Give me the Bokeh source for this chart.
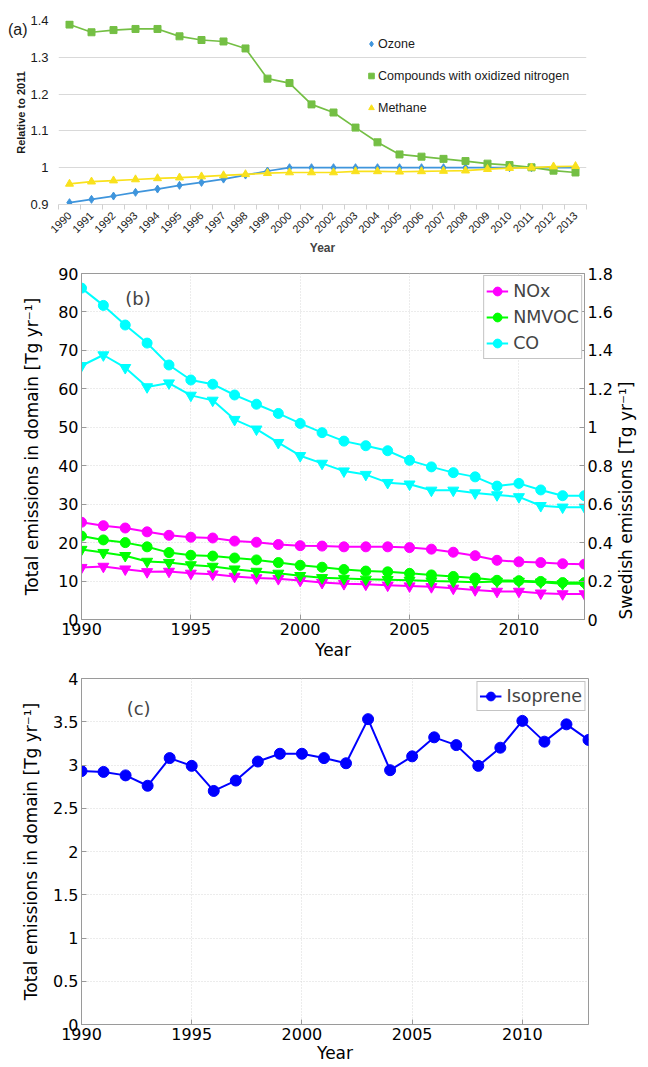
import math
from bokeh.plotting import figure
from bokeh.models import (Range1d, LinearAxis, FixedTicker, CustomJSTickFormatter,
                          Legend, LegendItem, Label)
from bokeh.embed import file_html
from bokeh.resources import INLINE

# ---------------- data ----------------
years = list(range(1990, 2014))

# panel (a): relative to 2011
ozone = [0.905, 0.914, 0.923, 0.933, 0.942, 0.952, 0.960, 0.969, 0.980, 0.991,
         1.000, 1.000, 1.000, 1.000, 1.000, 1.000, 1.000, 1.000, 1.000, 1.000,
         1.000, 1.000, 1.000, 1.000]
oxidized_n = [1.389, 1.368, 1.374, 1.377, 1.377, 1.357, 1.347, 1.343, 1.324, 1.242,
              1.230, 1.172, 1.150, 1.109, 1.069, 1.036, 1.030, 1.024, 1.018, 1.011,
              1.007, 1.001, 0.992, 0.987]
methane = [0.956, 0.962, 0.965, 0.968, 0.971, 0.973, 0.976, 0.979, 0.982, 0.985,
           0.987, 0.987, 0.987, 0.990, 0.990, 0.989, 0.990, 0.991, 0.992, 0.996,
           0.999, 1.000, 1.003, 1.004]

# panel (b): total emissions in domain [Tg/yr]
nox_domain = [25.3, 24.4, 23.8, 22.8, 21.9, 21.4, 21.2, 20.4, 20.1, 19.5,
              19.2, 19.1, 18.9, 18.9, 18.9, 18.7, 18.3, 17.5, 16.6, 15.4,
              15.0, 14.8, 14.5, 14.4]
nmvoc_domain = [21.7, 20.7, 20.0, 18.9, 17.4, 16.7, 16.5, 16.0, 15.5, 14.8,
                14.1, 13.6, 13.0, 12.6, 12.4, 12.0, 11.6, 11.2, 10.8, 10.2,
                10.1, 9.9, 9.6, 9.6]
co_domain = [86.2, 81.7, 76.6, 71.9, 66.2, 62.3, 61.2, 58.4, 56.0, 53.6,
             51.0, 48.6, 46.4, 45.2, 43.9, 41.4, 39.7, 38.2, 37.1, 34.7,
             35.4, 33.7, 32.2, 32.2]

# panel (b): Swedish emissions [Tg/yr] (right axis)
nox_sweden = [0.270, 0.276, 0.262, 0.248, 0.250, 0.240, 0.236, 0.224, 0.216, 0.212,
              0.203, 0.192, 0.186, 0.183, 0.178, 0.174, 0.170, 0.162, 0.154, 0.146,
              0.146, 0.137, 0.133, 0.133]
nmvoc_sweden = [0.364, 0.348, 0.332, 0.302, 0.296, 0.284, 0.276, 0.262, 0.250, 0.240,
                0.228, 0.217, 0.213, 0.209, 0.207, 0.204, 0.200, 0.198, 0.194, 0.198,
                0.198, 0.194, 0.186, 0.186]
co_sweden = [1.320, 1.376, 1.310, 1.210, 1.230, 1.166, 1.140, 1.040, 0.990, 0.920,
             0.852, 0.812, 0.772, 0.754, 0.712, 0.704, 0.672, 0.672, 0.658, 0.648,
             0.638, 0.592, 0.584, 0.584]

# panel (c): isoprene total emissions in domain [Tg/yr]
isoprene = [2.93, 2.92, 2.88, 2.76, 3.08, 2.99, 2.70, 2.82, 3.04, 3.13,
            3.13, 3.08, 3.02, 3.53, 2.94, 3.10, 3.32, 3.23, 2.99, 3.20,
            3.51, 3.27, 3.47, 3.29]

a_yticks = [0.9, 1.0, 1.1, 1.2, 1.3, 1.4]
b_yticks = [0, 10, 20, 30, 40, 50, 60, 70, 80, 90]
b_ryticks = [0, 0.2, 0.4, 0.6, 0.8, 1, 1.2, 1.4, 1.6, 1.8]
c_yticks = [0, 0.5, 1, 1.5, 2, 2.5, 3, 3.5, 4]
bc_xticks = [1990, 1995, 2000, 2005, 2010]

# ---------------- styles ----------------
GREEN_A = "#74bf44"
BLUE_A = "#3f95dc"
YEL_A = "#f9e11c"
MAG = "#ff00ff"
GRN = "#00ff00"
CYA = "#00ffff"
BLU = "#0000ff"
FA = "Liberation Sans"
FM = "DejaVu Sans"
AXC = "#9a9a9a"
GRIDC = "#d9d9d9"


def fmt1():
    return CustomJSTickFormatter(code="return String(Math.round(tick*10)/10);")


# ---------------- panel (a) ----------------
pa = figure(width=648, height=262, x_range=Range1d(1989.5, 2013.5),
            y_range=Range1d(0.9, 1.4), output_backend="svg", toolbar_location=None,
            min_border_left=58, min_border_right=62, min_border_top=20,
            min_border_bottom=58)
pa.outline_line_color = None
pa.xgrid.visible = False
pa.ygrid.grid_line_color = "#d9d9d9"
pa.yaxis.ticker = FixedTicker(ticks=a_yticks)
pa.yaxis.formatter = fmt1()
pa.yaxis.axis_line_color = None
pa.yaxis.major_tick_line_color = None
pa.yaxis.minor_tick_line_color = None
pa.yaxis.major_tick_out = 0
pa.yaxis.minor_tick_out = 0
pa.yaxis.major_label_text_font = FA
pa.yaxis.major_label_text_font_size = "13px"
pa.yaxis.major_label_text_color = "#1a1a1a"
pa.yaxis.major_label_standoff = 10
pa.xaxis.ticker = FixedTicker(ticks=years, minor_ticks=[y - 0.5 for y in years] + [2013.5])
pa.xaxis.formatter = CustomJSTickFormatter(code="return String(tick);")
pa.xaxis.major_tick_line_color = None
pa.xaxis.major_tick_out = 0
pa.xaxis.major_tick_in = 0
pa.xaxis.minor_tick_line_color = "#d0d0d0"
pa.xaxis.minor_tick_out = 5
pa.xaxis.minor_tick_in = 0
pa.xaxis.axis_line_color = "#d9d9d9"
pa.xaxis.major_label_orientation = math.pi / 4
pa.xaxis.major_label_text_font = FA
pa.xaxis.major_label_text_font_size = "11px"
pa.xaxis.major_label_text_color = "#1a1a1a"
pa.xaxis.major_label_standoff = 4
pa.xaxis.axis_label = "Year"
pa.xaxis.axis_label_text_font = FA
pa.xaxis.axis_label_text_font_style = "bold"
pa.xaxis.axis_label_text_font_size = "12px"
pa.xaxis.axis_label_standoff = 2

# outer left axis carrying the panel tag "(a)" and the y title
outer_a = LinearAxis(ticker=FixedTicker(ticks=[1.3755]),
                     formatter=CustomJSTickFormatter(code="return '(a)';"),
                     axis_line_color=None, major_tick_line_color=None,
                     minor_tick_line_color=None, major_tick_out=0, major_tick_in=0,
                     minor_tick_out=0,
                     major_label_standoff=0, major_label_text_font=FA,
                     major_label_text_font_size="16px", major_label_text_color="#1a1a1a",
                     axis_label="Relative to 2011", axis_label_text_font=FA,
                     axis_label_text_font_style="bold", axis_label_text_font_size="11px",
                     axis_label_text_color="#1a1a1a", axis_label_standoff=-22)
pa.add_layout(outer_a, "left")

pa.line(years, ozone, line_color=BLUE_A, line_width=1.7)
r_oz = pa.scatter(years, ozone, marker="diamond", size=8, color=BLUE_A)
pa.line(years, oxidized_n, line_color=GREEN_A, line_width=1.7)
r_ox = pa.scatter(years, oxidized_n, marker="square", size=7, color=GREEN_A)
pa.line(years, methane, line_color=YEL_A, line_width=1.7)
r_me = pa.scatter(years, methane, marker="triangle", size=8, color=YEL_A)

leg_a = Legend(items=[LegendItem(label="Ozone", renderers=[r_oz]),
                      LegendItem(label="Compounds with oxidized nitrogen", renderers=[r_ox]),
                      LegendItem(label="Methane", renderers=[r_me])],
               location=(306, 89), border_line_color=None, background_fill_alpha=0,
               glyph_width=14, glyph_height=15, label_height=15, spacing=17,
               padding=0, margin=0, label_standoff=-3,
               label_text_font=FA, label_text_font_size="12.5px",
               label_text_color="#1a1a1a")
pa.add_layout(leg_a)


def style_matlab(p):
    p.outline_line_color = AXC
    p.outline_line_width = 1
    for g in (p.xgrid, p.ygrid):
        g.grid_line_color = GRIDC
        g.grid_line_dash = "1 2"
    for ax in p.axis:
        ax.axis_line_color = AXC
        ax.major_tick_line_color = AXC
        ax.major_tick_in = 5
        ax.major_tick_out = 0
        ax.minor_tick_line_color = None
        ax.minor_tick_out = 0
        ax.major_label_text_font = FM
        ax.major_label_text_font_size = "16px"
        ax.major_label_text_color = "black"
        ax.major_label_standoff = 3
        ax.axis_label_text_font = FM
        ax.axis_label_text_font_size = "17px"
        ax.axis_label_text_font_style = "normal"
        ax.axis_label_text_color = "black"


# ---------------- panel (b) ----------------
pb = figure(width=648, height=406, x_range=Range1d(1990, 2013), y_range=Range1d(0, 90),
            output_backend="svg", toolbar_location=None,
            min_border_left=81, min_border_right=61, min_border_top=11,
            min_border_bottom=49)
pb.extra_y_ranges = {"swe": Range1d(0, 1.8)}
right_b = LinearAxis(y_range_name="swe", ticker=FixedTicker(ticks=b_ryticks),
                     formatter=fmt1(), axis_label="Swedish emissions [Tg yr⁻¹]")
pb.add_layout(right_b, "right")
pb.xaxis.ticker = FixedTicker(ticks=bc_xticks)
pb.yaxis[0].ticker = FixedTicker(ticks=b_yticks)
pb.yaxis[0].formatter = fmt1()
pb.yaxis[0].axis_label = "Total emissions in domain [Tg yr⁻¹]"
pb.xaxis.axis_label = "Year"
style_matlab(pb)
pb.yaxis[0].axis_label_standoff = 13
right_b.axis_label_standoff = 10
try:
    right_b.axis_label_orientation = math.pi / 2
except Exception:
    pass
try:
    right_b.axis_label_align = "start"
except Exception:
    pass
pb.xaxis.axis_label_standoff = 2
pb.xgrid.ticker = FixedTicker(ticks=bc_xticks)
pb.ygrid.ticker = FixedTicker(ticks=b_yticks)

items_b = []
for name, dom, swe, col in (("NOx", nox_domain, nox_sweden, MAG),
                            ("NMVOC", nmvoc_domain, nmvoc_sweden, GRN),
                            ("CO", co_domain, co_sweden, CYA)):
    l1 = pb.line(years, dom, line_color=col, line_width=2)
    s1 = pb.scatter(years, dom, marker="circle", size=10, color=col)
    pb.line(years, swe, line_color=col, line_width=2, y_range_name="swe")
    pb.scatter(years, swe, marker="inverted_triangle", size=11, color=col,
               y_range_name="swe")
    items_b.append(LegendItem(label=name, renderers=[l1, s1]))

leg_b = Legend(items=items_b, location="top_right", margin=2, padding=2, spacing=0,
               glyph_width=22, glyph_height=26, label_height=26, label_standoff=5,
               border_line_color="#8a8a8a", border_line_width=1,
               background_fill_color="white", background_fill_alpha=1,
               label_text_font=FM, label_text_font_size="17.5px")
pb.add_layout(leg_b)
pb.add_layout(Label(x=1992.0, y=83.5, text="(b)", text_baseline="middle",
                    text_align="left", text_font=FM, text_font_size="18px"))

# ---------------- panel (c) ----------------
pc = figure(width=648, height=398, x_range=Range1d(1990, 2013), y_range=Range1d(0, 4),
            output_backend="svg", toolbar_location=None,
            min_border_left=81, min_border_right=60, min_border_top=10,
            min_border_bottom=42)
pc.xaxis.ticker = FixedTicker(ticks=bc_xticks)
pc.yaxis.ticker = FixedTicker(ticks=c_yticks)
pc.yaxis.formatter = fmt1()
pc.yaxis.axis_label = "Total emissions in domain [Tg yr⁻¹]"
pc.xaxis.axis_label = "Year"
style_matlab(pc)
pc.yaxis.axis_label_standoff = 9
pc.xaxis.axis_label_standoff = 0
pc.xgrid.ticker = FixedTicker(ticks=bc_xticks)
pc.ygrid.ticker = FixedTicker(ticks=c_yticks)

l_iso = pc.line(years, isoprene, line_color=BLU, line_width=2)
s_iso = pc.scatter(years, isoprene, marker="circle", size=11, color=BLU)
leg_c = Legend(items=[LegendItem(label="Isoprene", renderers=[l_iso, s_iso])],
               location="top_right", margin=3, padding=2, spacing=0,
               glyph_width=22, glyph_height=24, label_height=24, label_standoff=5,
               border_line_color="#8a8a8a", border_line_width=1,
               background_fill_color="white", background_fill_alpha=1,
               label_text_font=FM, label_text_font_size="17.5px")
pc.add_layout(leg_c)
pc.add_layout(Label(x=1992.05, y=3.65, text="(c)", text_baseline="middle",
                    text_align="left", text_font=FM, text_font_size="18px"))

# three separate roots stacked vertically (no cross-plot frame alignment)
open("out.html", "w").write(file_html([pa, pb, pc], INLINE))
